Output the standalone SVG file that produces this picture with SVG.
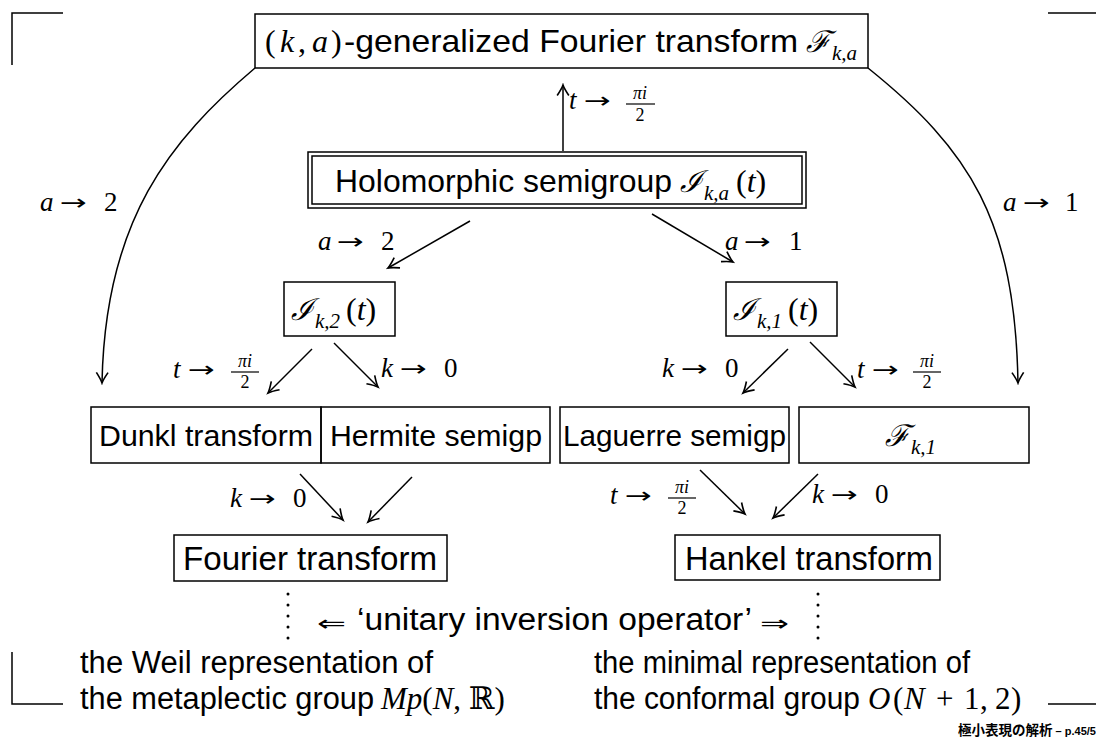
<svg xmlns="http://www.w3.org/2000/svg" width="1096" height="740" viewBox="0 0 1096 740">
<style>
.box{fill:none;stroke:#000;stroke-width:1.5}
.ln{fill:none;stroke:#000;stroke-width:1.5}
.sans{font-family:"Liberation Sans",Arial,sans-serif;fill:#000}
.m{font-family:"Liberation Serif","DejaVu Serif",serif;fill:#000}
.i{font-style:italic}
.cal{font-family:"DejaVu Serif","Liberation Serif",serif;font-style:italic;fill:#000}
.lab{font-size:27px}
.ar{font-family:"DejaVu Sans",sans-serif;font-size:22px;fill:#000}
.fr{font-size:18px}
</style>
<defs>
<marker id="ah" markerWidth="14" markerHeight="14" refX="0" refY="0" viewBox="-10 -6 12 12" orient="auto" markerUnits="userSpaceOnUse">
<path d="M-9,-5 Q-3,-1 0,0 Q-3,1 -9,5" fill="none" stroke="#000" stroke-width="1.4"/>
</marker>
</defs>
<rect width="1096" height="740" fill="#fff"/>

<g id="corners" class="ln">
<path d="M12,65 V13 H63"/>
<path d="M1048,13 H1096"/>
<path d="M12,652 V704 H63"/>
<path d="M1048,704 H1096"/>
</g>

<g id="connectors" class="ln">
<path d="M255,68 C170,140 105,220 102,383" marker-end="url(#ah)"/>
<path d="M868,68 C970,150 1015,220 1018,383" marker-end="url(#ah)"/>
<path d="M563,151 V85" marker-end="url(#ah)"/>
<path d="M470,221 L388,268" marker-end="url(#ah)"/>
<path d="M652,214 L733,262" marker-end="url(#ah)"/>
<path d="M312,349 L268,393" marker-end="url(#ah)"/>
<path d="M334,343 L378,387" marker-end="url(#ah)"/>
<path d="M788,349 L743,393" marker-end="url(#ah)"/>
<path d="M810,342 L855,387" marker-end="url(#ah)"/>
<path d="M300,474 L343,520" marker-end="url(#ah)"/>
<path d="M412,477 L368,522" marker-end="url(#ah)"/>
<path d="M700,470 L745,514" marker-end="url(#ah)"/>
<path d="M818,474 L773,518" marker-end="url(#ah)"/>
<path d="M288,594 V640" stroke-width="3" stroke-dasharray="0 11" stroke-linecap="round"/>
<path d="M818,594 V640" stroke-width="3" stroke-dasharray="0 11" stroke-linecap="round"/>
</g>

<g id="edge-labels">
<g><text class="m lab i" x="40" y="211">a</text><text class="ar" x="60" y="210" textLength="27" lengthAdjust="spacingAndGlyphs">→</text><text class="m lab" x="104" y="211">2</text></g>
<g><text class="m lab i" x="1003" y="211">a</text><text class="ar" x="1023" y="210" textLength="27" lengthAdjust="spacingAndGlyphs">→</text><text class="m lab" x="1065" y="211">1</text></g>
<g>
<text class="m lab i" x="569" y="109">t</text><text class="ar" x="584" y="108" textLength="27" lengthAdjust="spacingAndGlyphs">→</text>
<text class="m fr i" x="640" y="99" text-anchor="middle">πi</text>
<path d="M626,104 H655" stroke="#000" stroke-width="1.2"/>
<text class="m fr" x="640" y="121" text-anchor="middle">2</text>
</g>
<g><text class="m lab i" x="318" y="250">a</text><text class="ar" x="337" y="249" textLength="27" lengthAdjust="spacingAndGlyphs">→</text><text class="m lab" x="381" y="250">2</text></g>
<g><text class="m lab i" x="725" y="250">a</text><text class="ar" x="744" y="249" textLength="27" lengthAdjust="spacingAndGlyphs">→</text><text class="m lab" x="789" y="250">1</text></g>
<g>
<text class="m lab i" x="173" y="378">t</text><text class="ar" x="188" y="377" textLength="27" lengthAdjust="spacingAndGlyphs">→</text>
<text class="m fr i" x="245" y="367" text-anchor="middle">πi</text>
<path d="M231,372 H259" stroke="#000" stroke-width="1.2"/>
<text class="m fr" x="245" y="388" text-anchor="middle">2</text>
</g>
<g><text class="m lab i" x="381" y="377">k</text><text class="ar" x="400" y="376" textLength="27" lengthAdjust="spacingAndGlyphs">→</text><text class="m lab" x="444" y="377">0</text></g>
<g><text class="m lab i" x="662" y="377">k</text><text class="ar" x="681" y="376" textLength="27" lengthAdjust="spacingAndGlyphs">→</text><text class="m lab" x="725" y="377">0</text></g>
<g>
<text class="m lab i" x="857" y="378">t</text><text class="ar" x="872" y="377" textLength="27" lengthAdjust="spacingAndGlyphs">→</text>
<text class="m fr i" x="927" y="367" text-anchor="middle">πi</text>
<path d="M913,372 H941" stroke="#000" stroke-width="1.2"/>
<text class="m fr" x="927" y="388" text-anchor="middle">2</text>
</g>
<g><text class="m lab i" x="230" y="507">k</text><text class="ar" x="249" y="506" textLength="27" lengthAdjust="spacingAndGlyphs">→</text><text class="m lab" x="293" y="507">0</text></g>
<g>
<text class="m lab i" x="610" y="504">t</text><text class="ar" x="625" y="503" textLength="27" lengthAdjust="spacingAndGlyphs">→</text>
<text class="m fr i" x="682" y="493" text-anchor="middle">πi</text>
<path d="M668,498 H696" stroke="#000" stroke-width="1.2"/>
<text class="m fr" x="682" y="514" text-anchor="middle">2</text>
</g>
<g><text class="m lab i" x="812" y="503">k</text><text class="ar" x="831" y="502" textLength="27" lengthAdjust="spacingAndGlyphs">→</text><text class="m lab" x="875" y="503">0</text></g>
</g>

<g id="node-fka">
<rect class="box" x="255" y="14" width="613" height="54"/>
<text class="m" y="52" font-size="32"><tspan x="265">(</tspan><tspan x="280" class="i">k</tspan><tspan x="298">,</tspan><tspan x="312" class="i">a</tspan><tspan x="331">)</tspan></text>
<text class="sans" x="344" y="52" font-size="32" textLength="454" lengthAdjust="spacingAndGlyphs">-generalized Fourier transform</text>
<text class="cal" x="806" y="52" font-size="30">ℱ</text>
<text class="m i" x="832" y="60" font-size="21">k,a</text>
</g>

<g id="node-holo">
<rect class="box" x="308" y="152" width="498" height="56"/>
<rect class="box" x="312" y="156" width="490" height="48"/>
<text class="sans" x="335" y="192" font-size="32" textLength="337" lengthAdjust="spacingAndGlyphs">Holomorphic semigroup</text>
<text class="cal" x="680" y="192" font-size="30">ℐ</text>
<text class="m i" x="704" y="200" font-size="21">k,a</text>
<text class="m" y="192" font-size="32"><tspan x="736">(</tspan><tspan class="i">t</tspan><tspan>)</tspan></text>
</g>

<g id="node-ik2">
<rect class="box" x="284" y="282" width="111" height="54"/>
<text class="cal" x="291" y="320" font-size="30">ℐ</text>
<text class="m i" x="315" y="328" font-size="21">k,2</text>
<text class="m" y="320" font-size="32"><tspan x="346">(</tspan><tspan class="i">t</tspan><tspan>)</tspan></text>
</g>

<g id="node-ik1">
<rect class="box" x="726" y="282" width="111" height="54"/>
<text class="cal" x="733" y="320" font-size="30">ℐ</text>
<text class="m i" x="757" y="328" font-size="21">k,1</text>
<text class="m" y="320" font-size="32"><tspan x="788">(</tspan><tspan class="i">t</tspan><tspan>)</tspan></text>
</g>

<g id="node-dunkl">
<rect class="box" x="91" y="407" width="230" height="56"/>
<text class="sans" x="99" y="446" font-size="30" textLength="214" lengthAdjust="spacingAndGlyphs">Dunkl transform</text>
</g>
<g id="node-hermite">
<rect class="box" x="321" y="407" width="229" height="56"/>
<text class="sans" x="330" y="446" font-size="30" textLength="212" lengthAdjust="spacingAndGlyphs">Hermite semigp</text>
</g>
<g id="node-laguerre">
<rect class="box" x="560" y="407" width="229" height="56"/>
<text class="sans" x="563" y="446" font-size="30" textLength="223" lengthAdjust="spacingAndGlyphs">Laguerre semigp</text>
</g>
<g id="node-fk1">
<rect class="box" x="799" y="407" width="230" height="56"/>
<text class="cal" x="885" y="446" font-size="30">ℱ</text>
<text class="m i" x="911" y="454" font-size="21">k,1</text>
</g>

<g id="node-fourier">
<rect class="box" x="174" y="535" width="273" height="46"/>
<text class="sans" x="183" y="570" font-size="33" textLength="254" lengthAdjust="spacingAndGlyphs">Fourier transform</text>
</g>
<g id="node-hankel">
<rect class="box" x="675" y="535" width="265" height="45"/>
<text class="sans" x="685" y="570" font-size="33" textLength="248" lengthAdjust="spacingAndGlyphs">Hankel transform</text>
</g>

<g id="bottom-text">
<text class="ar" x="317" y="631" font-size="32" textLength="29" lengthAdjust="spacingAndGlyphs">⇐</text>
<text class="sans" x="357" y="630" font-size="31" textLength="395" lengthAdjust="spacingAndGlyphs">‘unitary inversion operator’</text>
<text class="ar" x="760" y="631" font-size="32" textLength="29" lengthAdjust="spacingAndGlyphs">⇒</text>
<text class="sans" x="80" y="673" font-size="31" textLength="353" lengthAdjust="spacingAndGlyphs">the Weil representation of</text>
<text class="sans" x="80" y="709" font-size="31" textLength="294" lengthAdjust="spacingAndGlyphs">the metaplectic group</text>
<text class="m" y="709" font-size="31"><tspan x="381" class="i">Mp</tspan><tspan>(</tspan><tspan class="i">N</tspan><tspan>, ℝ)</tspan></text>
<text class="sans" x="594" y="673" font-size="31" textLength="376" lengthAdjust="spacingAndGlyphs">the minimal representation of</text>
<text class="sans" x="594" y="709" font-size="31" textLength="266" lengthAdjust="spacingAndGlyphs">the conformal group</text>
<text class="m" y="709" font-size="31"><tspan x="868" class="i">O</tspan><tspan x="893">(</tspan><tspan x="904" class="i">N</tspan><tspan x="936">+</tspan><tspan x="964">1</tspan><tspan x="980">,</tspan><tspan x="995">2</tspan><tspan x="1011">)</tspan></text>
<text x="958" y="735" font-family="'Noto Sans CJK JP',sans-serif" font-weight="bold" font-size="13.5">極小表現の解析 <tspan font-family="'Liberation Sans',sans-serif" font-size="11">– p.45/5</tspan></text>
</g>
</svg>
